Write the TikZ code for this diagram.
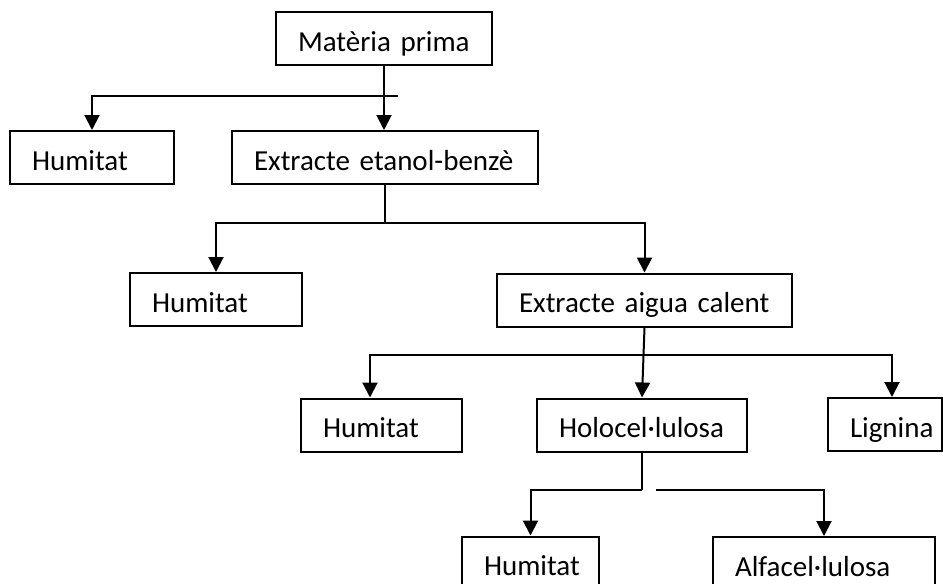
\documentclass[tikz,border=0pt]{standalone}
\usepackage{fontspec}
\setmainfont{Carlito}
\usetikzlibrary{arrows.meta}
\tikzset{
  ln/.style={line width=2pt},
  tip/.tip={Triangle[width=15pt,length=15pt]},
  arr/.style={-tip},
  bx/.style={draw, line width=2pt, inner xsep=22pt, inner ysep=0pt,
    align=left, text width=#1, text height=25pt, text depth=0pt,
    minimum height=53pt, font=\fontsize{29}{34}\selectfont}
}
\begin{document}
\begin{tikzpicture}[x=1pt,y=-1pt]
\useasboundingbox (0,0) rectangle (943,584);
\fill[white] (0,0) rectangle (943,584);
\clip (0,0) rectangle (943,584);
% boxes (text width = box width - 44)
\node[bx=172pt] (mp) at (384,38.5) {Matèria prima};
\node[bx=120pt] (h1) at (92,157.5) {Humitat};
\node[bx=262pt] (ee) at (385,157.5) {Extracte etanol-benzè};
\node[bx=128pt] (h2) at (216,299.5) {Humitat};
\node[bx=251pt] (ea) at (644.5,300) {Extracte aigua calent};
\node[bx=117pt] (h3) at (381.5,425) {Humitat};
\node[bx=166pt] (ho) at (642,425) {Holocel·lulosa};
\node[bx=70pt] (li) at (885,424.5) {Lignina};
\node[bx=93pt] (h4) at (530.5,563) {Humitat};
\node[bx=178pt] (al) at (824,563.5) {Alfacel·lulosa};
% level 1
\coordinate (j1) at (398,96);
\draw[ln,arr] (mp.south) -- (mp.south |- ee.north);
\draw[ln,arr] (j1) -| (h1.north);
% level 2
\coordinate (j2) at (385,223);
\draw[ln] (ee.south) -- (j2);
\draw[ln,arr] (j2) -| (h2.north);
\draw[ln,arr] (j2) -| (ea.north);
\draw[line width=2.6pt] (j2) -- ++(17,0);
% level 3
\coordinate (b3l) at (370,355);
\coordinate (b3r) at (892,355);
\draw[ln,arr] (ea.south) -- (ho.north);
\draw[ln,tip-tip] (b3l |- h3.north) -- (b3l) -- (b3r) -- (b3r |- li.north);
% level 4
\coordinate (j4) at (642,490);
\coordinate (g4) at (656,490);
\draw[ln] (ho.south) -- (j4);
\draw[ln,arr] (j4) -| (h4.north);
\draw[ln,arr] (g4) -| (al.north);
\end{tikzpicture}
\end{document}
